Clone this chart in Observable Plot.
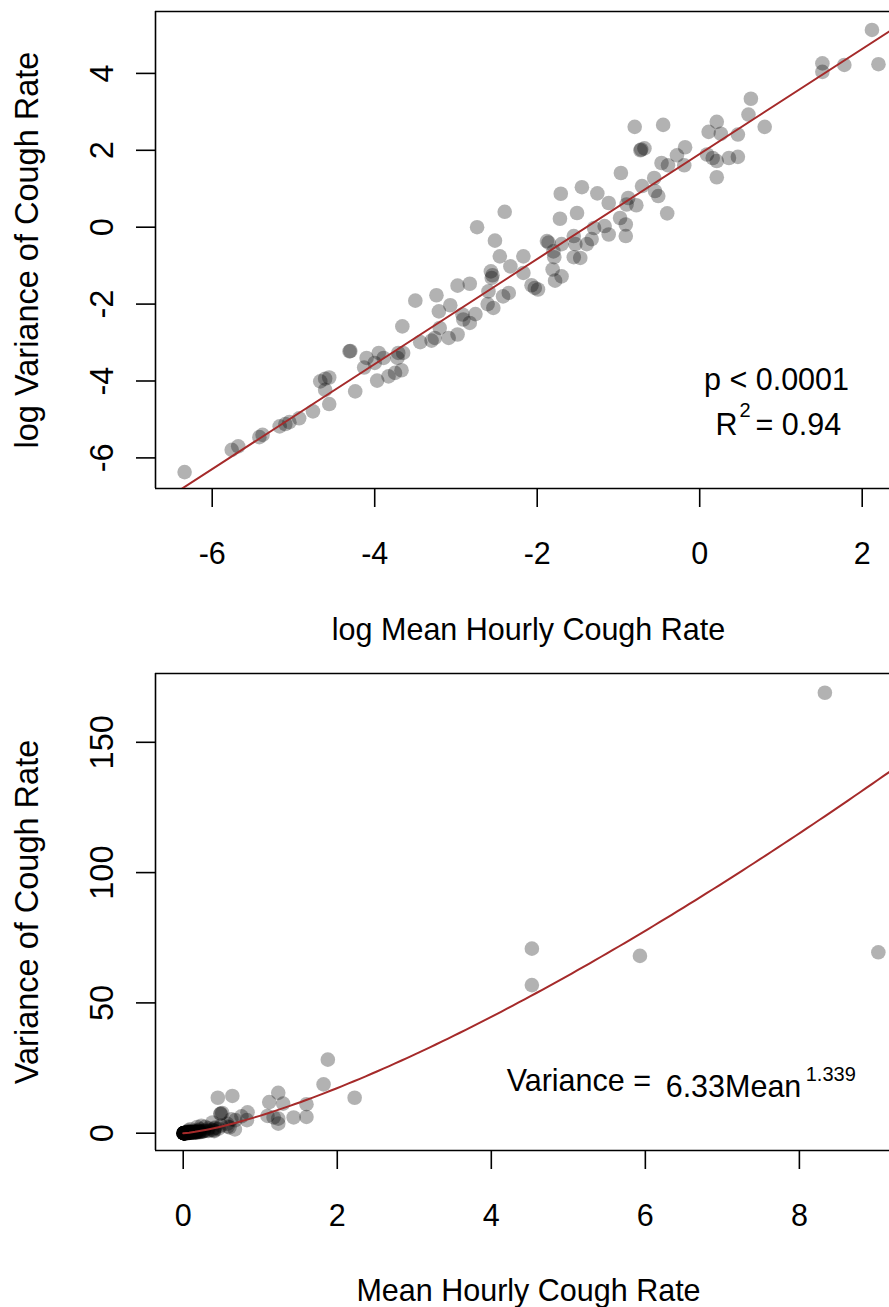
<!DOCTYPE html>
<html><head><meta charset="utf-8">
<script src="https://cdn.jsdelivr.net/npm/d3@7"></script>
<script src="https://cdn.jsdelivr.net/npm/@observablehq/plot@0.6"></script>
<style>
html,body{margin:0;padding:0;background:#fff;overflow:hidden;}
svg{display:block;}
</style></head><body><div id="chart"></div>
<script>
// log mean hourly cough rate (x) and log variance of cough rate (y), one pair per subject
const logMean = [
 -6.34,-5.76,-5.68,-5.42,-5.38,-5.17,-5.10,-5.05,-4.93,-4.76,-4.56,-4.61,-4.67,-4.56,-4.61,-4.31,-4.30,-4.24,-4.10,-4.13,
 -4.00,-3.95,-3.89,-3.97,-3.83,-3.75,-3.67,-3.71,-3.65,-3.72,-3.66,-3.50,-3.44,
 -3.30,-3.26,-3.20,-3.24,-3.21,-3.07,-3.09,-2.98,-2.98,-2.83,-2.92,-2.91,-2.83,-2.76,-2.74,-2.60,-2.61,-2.54,-2.57,-2.56,-2.55,
 -2.52,-2.46,-2.40,-2.33,-2.35,-2.42,-2.17,-2.17,-2.07,-2.03,-1.99,-1.88,-1.86,-1.80,-1.79,-1.81,-1.78,-1.70,-1.72,-1.71,-1.70,
 -1.55,-1.47,-1.51,-1.45,-1.55,-1.53,-1.39,-1.33,
 -1.30,-1.26,-1.17,-1.12,-1.12,-0.98,-0.91,-0.91,-0.97,-0.88,-0.90,-0.78,-0.80,-0.73,-0.72,-0.68,-0.71,-0.56,-0.55,-0.51,-0.47,
 -0.39,-0.45,-0.40,-0.28,-0.18,-0.19,0.09,0.16,0.21,0.11,0.21,0.21,0.26,0.36,0.47,0.47,0.60,0.63,0.80,1.51,1.51,1.78,2.12,2.20
];
const logVar = [
 -6.37,-5.79,-5.70,-5.46,-5.40,-5.18,-5.12,-5.07,-4.97,-4.79,-4.60,-4.23,-4.01,-3.91,-3.94,-3.23,-3.22,-4.27,-3.40,-3.65,
 -3.53,-3.27,-3.40,-3.99,-3.88,-3.79,-3.72,-3.27,-3.27,-3.40,-2.58,-1.91,-2.99,
 -2.95,-2.88,-2.62,-1.77,-2.19,-2.03,-2.88,-2.79,-1.52,-1.47,-2.27,-2.40,-2.49,-2.26,0.00,-1.67,-2.00,-2.10,-1.15,-1.32,-1.25,
 -0.35,-0.76,0.40,-1.02,-1.71,-1.80,-0.76,-1.19,-1.51,-1.58,-1.62,-0.36,-0.40,-0.63,-0.78,-1.10,-1.39,-1.28,0.22,0.87,-0.44,
 -0.78,-0.80,0.37,1.04,-0.23,-0.44,-0.44,-0.31,
 -0.02,0.88,0.03,-0.19,0.63,0.24,0.07,-0.23,1.41,0.76,0.59,0.57,2.61,2.00,2.02,2.05,1.07,1.28,0.94,0.81,1.67,
 1.61,2.66,0.36,1.87,2.08,1.61,1.89,1.80,1.72,2.48,2.74,1.30,2.43,1.80,2.41,1.83,2.93,3.34,2.61,4.26,4.04,4.22,5.13,4.24
];
// fitted power law Variance = a * Mean^b (as drawn)
const fitA = 6.72;
const fitB = 1.366;
// tick values
const topXTicks = [-6,-4,-2,0,2];
const topYTicks = [-6,-4,-2,0,2,4];
const botXTicks = [0,2,4,6,8];
const botYTicks = [0,50,100,150];
// texts
const topXTitle = "log Mean Hourly Cough Rate";
const topYTitle = "log Variance of Cough Rate";
const botXTitle = "Mean Hourly Cough Rate";
const botYTitle = "Variance of Cough Rate";
const pText = "p < 0.0001";
const r2Value = "0.94";
const eqLeft = "Variance =";
const eqCoef = "6.33";
const eqExp = "1.339";

const points = logMean.map((x, i) => ({lx: x, ly: logVar[i], mx: Math.exp(x), vy: Math.exp(logVar[i])}));

const FS = 30.5;   // horizontal text
const FSV = 32.5;  // rotated (vertical) text
const font = "'Liberation Sans', Arial, Helvetica, sans-serif";
const RED = "#a52a2a";
const LW = 1.6;
const fmt = d => String(d);

const xD1 = [-6.698, 2.336], yD1 = [-6.796, 5.61];
const lineEnds = xD1.map(x => ({x, y: Math.log(fitA) + fitB * x}));

const topPlot = Plot.plot({
  width: 889, height: 665,
  marginLeft: 155, marginRight: 0, marginTop: 11, marginBottom: 177,
  style: {fontFamily: font, fontSize: FS + "px", background: "white", color: "black", overflow: "visible"},
  x: {domain: xD1},
  y: {domain: yD1},
  marks: [
    Plot.axisX(topXTicks, {tickSize: 19, tickPadding: 35, strokeWidth: LW, label: null, fontSize: FS, tickFormat: fmt}),
    Plot.axisY(topYTicks, {tickSize: 19, tickPadding: 24, tickRotate: -90, strokeWidth: LW, label: null, fontSize: FSV, tickFormat: fmt}),
    Plot.ruleX([xD1[0]], {strokeWidth: LW}),
    Plot.ruleY(yD1, {strokeWidth: LW}),
    Plot.dot(points, {x: "lx", y: "ly", r: 7.3, fill: "black", fillOpacity: 0.3}),
    Plot.line(lineEnds, {x: "x", y: "y", stroke: RED, strokeWidth: 2, clip: true}),
    Plot.text([pText], {text: d => d, x: 0.945, y: -4.247, textAnchor: "middle", lineAnchor: "bottom", fontSize: FS}),
    Plot.text(["R"], {text: d => d, x: 0.194, y: -5.417, textAnchor: "start", lineAnchor: "bottom", fontSize: FS}),
    Plot.text(["2"], {text: d => d, x: 0.49, y: -4.941, textAnchor: "start", lineAnchor: "bottom", fontSize: 20}),
    Plot.text(["= " + r2Value], {text: d => d, x: 0.687, y: -5.417, textAnchor: "start", lineAnchor: "bottom", fontSize: FS}),
    Plot.text([topXTitle], {text: d => d, frameAnchor: "bottom", dx: 6, dy: 151, textAnchor: "middle", lineAnchor: "bottom", fontSize: FS}),
    Plot.text([topYTitle], {text: d => d, frameAnchor: "left", rotate: -90, dx: -118, textAnchor: "middle", lineAnchor: "bottom", fontSize: FSV})
  ]
});

const xD2 = [-0.36, 9.17], yD2 = [-6.64, 176.4];
const curve = d3.range(0, 121).map(i => {
  const m = xD2[1] * i / 120;
  return {x: m, y: fitA * Math.pow(m, fitB)};
});

const bottomPlot = Plot.plot({
  width: 889, height: 642,
  marginLeft: 155, marginRight: 0, marginTop: 8, marginBottom: 157,
  style: {fontFamily: font, fontSize: FS + "px", background: "white", color: "black", overflow: "visible"},
  x: {domain: xD2},
  y: {domain: yD2},
  marks: [
    Plot.axisX(botXTicks, {tickSize: 19, tickPadding: 35, strokeWidth: LW, label: null, fontSize: FS, tickFormat: fmt}),
    Plot.axisY(botYTicks, {tickSize: 19, tickPadding: 24, tickRotate: -90, strokeWidth: LW, label: null, fontSize: FSV, tickFormat: fmt}),
    Plot.ruleX([xD2[0]], {strokeWidth: LW}),
    Plot.ruleY(yD2, {strokeWidth: LW}),
    Plot.dot(points, {x: "mx", y: "vy", r: 7.3, fill: "black", fillOpacity: 0.3}),
    Plot.line(curve, {x: "x", y: "y", stroke: RED, strokeWidth: 2, clip: true}),
    Plot.text([eqLeft], {text: d => d, x: 4.199, y: 16.12, textAnchor: "start", lineAnchor: "bottom", fontSize: FS}),
    Plot.text([eqCoef + "Mean"], {text: d => d, x: 6.264, y: 13.81, textAnchor: "start", lineAnchor: "bottom", fontSize: FS}),
    Plot.text([eqExp], {text: d => d, x: 8.082, y: 19.95, textAnchor: "start", lineAnchor: "bottom", fontSize: 20}),
    Plot.text([botXTitle], {text: d => d, frameAnchor: "bottom", dx: 6, dy: 150, textAnchor: "middle", lineAnchor: "bottom", fontSize: FS}),
    Plot.text([botYTitle], {text: d => d, frameAnchor: "left", rotate: -90, dx: -118, textAnchor: "middle", lineAnchor: "bottom", fontSize: FSV})
  ]
});

const chart = document.getElementById("chart");
chart.appendChild(topPlot);
chart.appendChild(bottomPlot);
</script>
</body></html>
